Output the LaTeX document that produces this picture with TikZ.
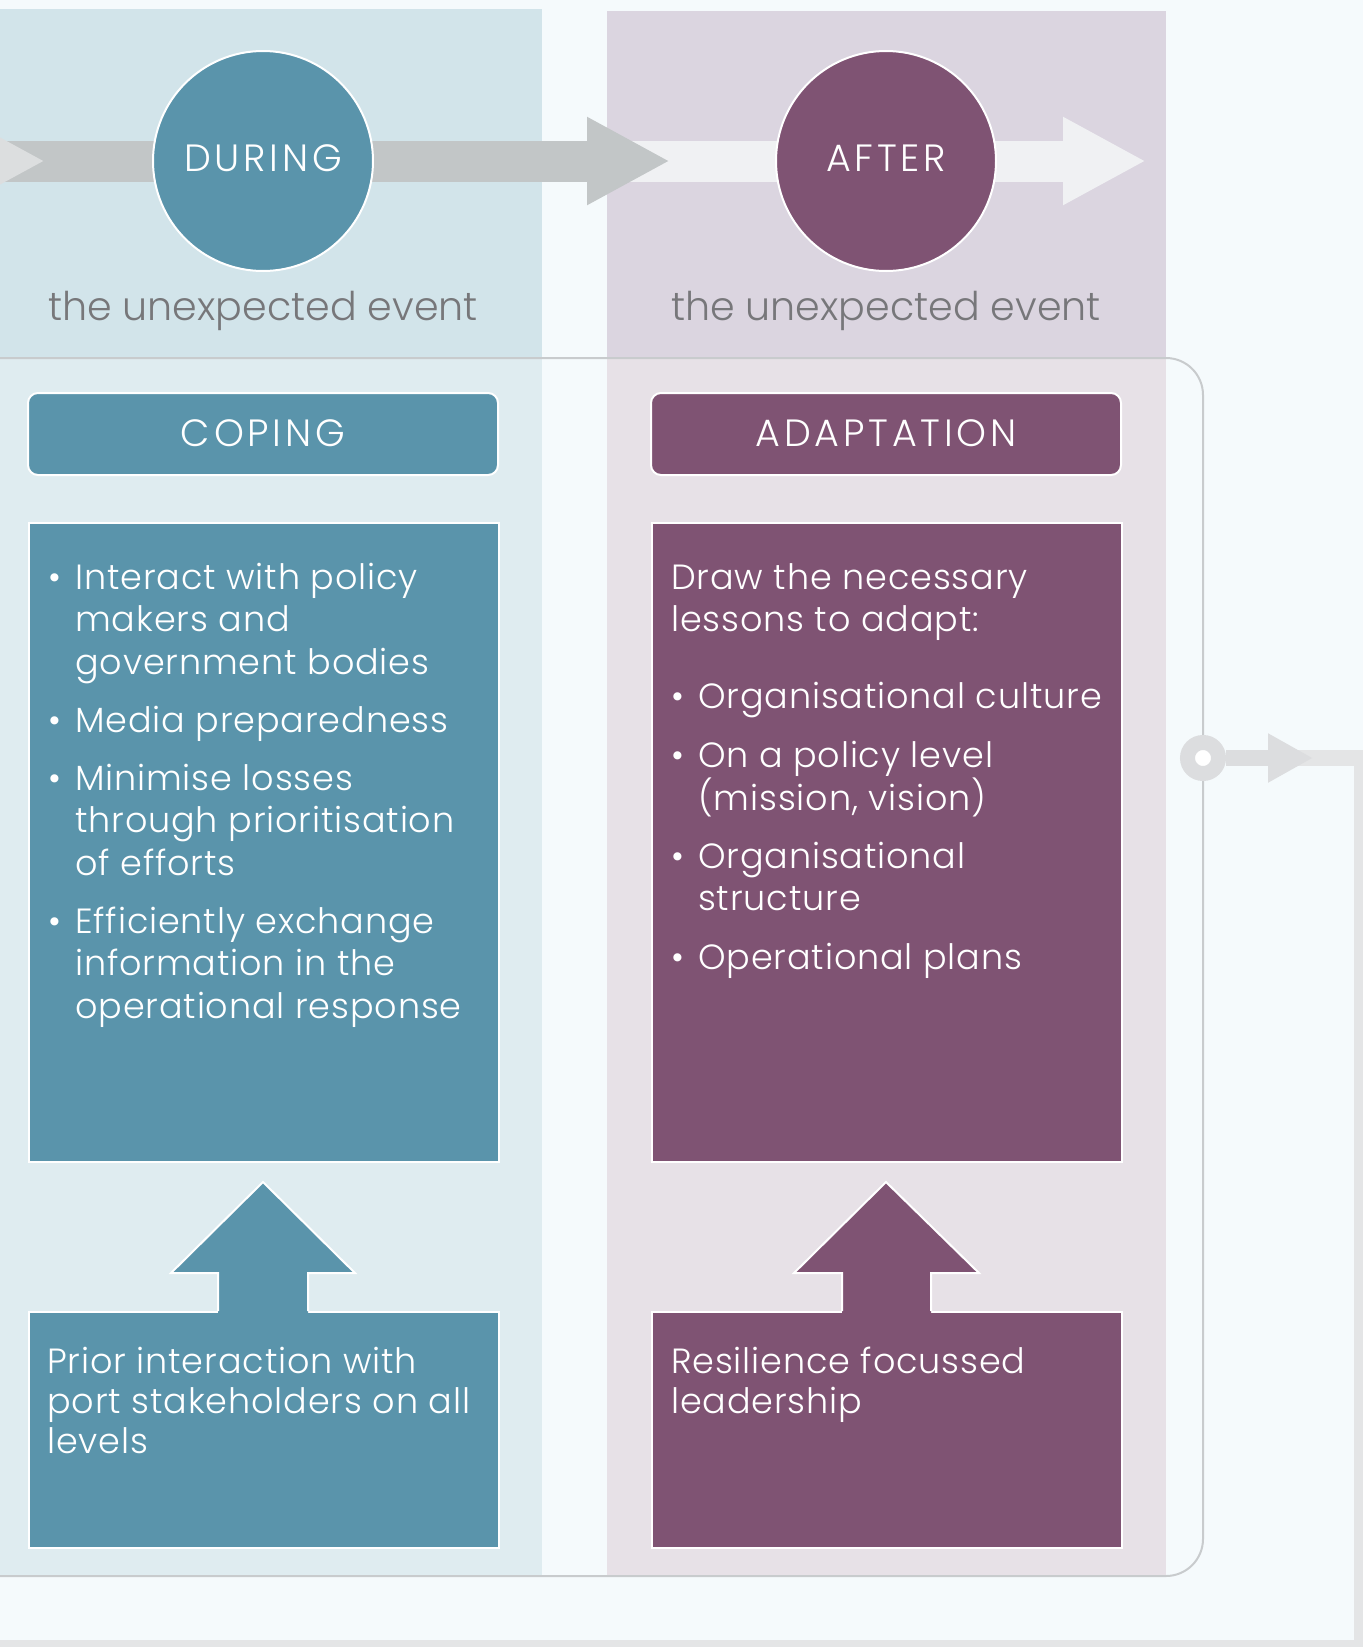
\documentclass[tikz,border=0pt]{standalone}
\usepackage{fontspec}
\setmainfont{Poppins Light}
\newfontfamily\bodyfont{Poppins Light}[LetterSpace=2.5]
\newfontfamily\titlefont{Poppins Light}[LetterSpace=10]
\usetikzlibrary{arrows.meta}

\definecolor{canvas}{HTML}{F5FAFC}
\definecolor{tealc}{HTML}{5A94AB}
\definecolor{plum}{HTML}{7F5373}
\definecolor{tealtop}{HTML}{D2E4EA}
\definecolor{tealbot}{HTML}{DFECF0}
\definecolor{plumtop}{HTML}{DBD5E0}
\definecolor{plumbot}{HTML}{E7E1E7}
\definecolor{arrowgray}{HTML}{C2C6C7}
\definecolor{arrowlight}{HTML}{F0F1F3}
\definecolor{arrowprev}{HTML}{DCDEDF}
\definecolor{framegray}{HTML}{C8CBCD}
\definecolor{loopgray}{HTML}{DCDDDF}
\definecolor{looplight}{HTML}{E4E5E6}
\definecolor{eventgray}{HTML}{77777A}

\newcommand{\bulletitem}{\makebox[27pt][l]{\textbullet}}
\newcommand{\bulletindent}{\hspace*{27pt}}

\tikzset{
  phase/.style={circle, draw=white, line width=2pt, minimum size=220pt, inner sep=0pt,
    text=white, text depth=6pt, font=\titlefont\fontsize{38}{38}\selectfont},
  headbox/.style={rectangle, rounded corners=10pt, draw=white, line width=2pt,
    minimum width=470pt, minimum height=82pt, text=white, text depth=2pt,
    font=\titlefont\fontsize{38}{38}\selectfont},
  contentbox/.style={rectangle, draw=white, line width=2pt, minimum width=470pt,
    anchor=north west, inner sep=0pt},
  eventtext/.style={text=eventgray, font=\fontsize{39.6}{39.6}\selectfont, anchor=base, inner sep=0pt},
  bodytext/.style={text=white, align=left, anchor=north west, inner sep=0pt,
    font=\bodyfont\fontsize{35}{42.5}\selectfont},
  bigarrow/.style={line width=41pt, -{Triangle[length=83pt, width=82pt]}},
  ring/.style={circle, draw=loopgray, line width=15pt, fill=white, minimum size=31pt, inner sep=0pt},
}

\begin{document}
\begin{tikzpicture}[x=1pt, y=-1pt]

    \useasboundingbox (0,0) rectangle (1363,1647);
    \clip (0,0) rectangle (1363,1647);

    % Background and columns
    \fill[canvas] (0,0) rectangle (1363,1647);
    \fill[tealtop] (0,9) rectangle (542,358);
    \fill[tealbot] (0,358) rectangle (542,1576);
    \fill[plumtop] (607,11) rectangle (1166,358);
    \fill[plumbot] (607,358) rectangle (1166,1576);

    % Time line
    \coordinate (prevstart) at (-300,161);
    \coordinate (prevtip) at (45,161);
    \coordinate (duringstart) at (0,161);
    \coordinate (duringtip) at (670,161);
    \coordinate (afterstart) at (600,161);
    \coordinate (aftertip) at (1146,161);
    \draw[bigarrow, arrowlight] (afterstart) -- (aftertip);
    \draw[bigarrow, arrowgray] (duringstart) -- (duringtip);
    \draw[bigarrow, arrowprev] (prevstart) -- (prevtip);

    \node[phase, fill=tealc] (during) at (263,161) {DURING};
    \node[phase, fill=plum] (after) at (886,161) {AFTER};
    \node[eventtext] (duringevent) at (263,320) {the unexpected event};
    \node[eventtext] (afterevent) at (886,320) {the unexpected event};

    % Frame with loop back
    \draw[framegray, line width=2pt, rounded corners=37pt]
        (0,358) -- (1203,358) -- (1203,1576) -- (0,1576);
    \coordinate (loopa) at (1295,758);
    \coordinate (loopb) at (1362,758);
    \coordinate (loopc) at (1362,1648);
    \coordinate (loopd) at (-20,1648);
    \coordinate (looptip) at (1313,758);
    \draw[looplight, line width=16pt] (loopa) -- (loopb) -- (loopc) -- (loopd);
    \node[ring] (loopstart) at (1203,758) {};
    \draw[loopgray, line width=16pt, -{Triangle[length=45pt, width=46pt]}] (loopstart) -- (looptip);

    % Coping column
    \node[headbox, fill=tealc] (coping) at (263,434) {COPING};
    \node[contentbox, fill=tealc, minimum height=639pt] (copingbox) at (28,522) {};
    \node[bodytext] (copinglist) at (48,559) {\rule{0pt}{30pt}%
        \bulletitem Interact with policy\\
        \bulletindent makers and\\
        \bulletindent government bodies\\[15.5pt]
        \bulletitem Media preparedness\\[15.5pt]
        \bulletitem Minimise losses\\
        \bulletindent through prioritisation\\
        \bulletindent of efforts\\[15.5pt]
        \bulletitem Efficiently exchange\\
        \bulletindent information in the\\
        \bulletindent operational response};
    \node[contentbox, fill=tealc, minimum height=236pt] (priorbox) at (28,1311) {};
    \fill[tealc] (218,1313) -- (218,1273) -- (171,1273) -- (263,1182)
        -- (355,1273) -- (308,1273) -- (308,1313) -- cycle;
    \draw[white, line width=2pt] (218,1311) -- (218,1273) -- (171,1273) -- (263,1182)
        -- (355,1273) -- (308,1273) -- (308,1311);
    \node[bodytext, font=\bodyfont\fontsize{35}{40}\selectfont] (priortext) at (47,1343) {\rule{0pt}{30pt}%
        Prior interaction with\\
        port stakeholders on all\\
        levels};

    % Adaptation column
    \node[headbox, fill=plum] (adaptation) at (886,434) {ADAPTATION};
    \node[contentbox, fill=plum, minimum height=639pt] (adaptbox) at (651,522) {};
    \node[bodytext] (adaptlist) at (671,559) {\rule{0pt}{30pt}%
        Draw the necessary\\
        lessons to adapt:\\[34.5pt]
        \bulletitem Organisational culture\\[16.5pt]
        \bulletitem On a policy level\\
        \bulletindent (mission, vision)\\[15.5pt]
        \bulletitem Organisational\\
        \bulletindent structure\\[16.5pt]
        \bulletitem Operational plans};
    \node[contentbox, fill=plum, minimum height=236pt] (leaderbox) at (651,1311) {};
    \fill[plum] (842,1313) -- (842,1273) -- (794,1273) -- (886,1182)
        -- (979,1273) -- (931,1273) -- (931,1313) -- cycle;
    \draw[white, line width=2pt] (842,1311) -- (842,1273) -- (794,1273) -- (886,1182)
        -- (979,1273) -- (931,1273) -- (931,1311);
    \node[bodytext, font=\bodyfont\fontsize{35}{40}\selectfont] (leadertext) at (671,1343) {\rule{0pt}{30pt}%
        Resilience focussed\\
        leadership};

\end{tikzpicture}
\end{document}
